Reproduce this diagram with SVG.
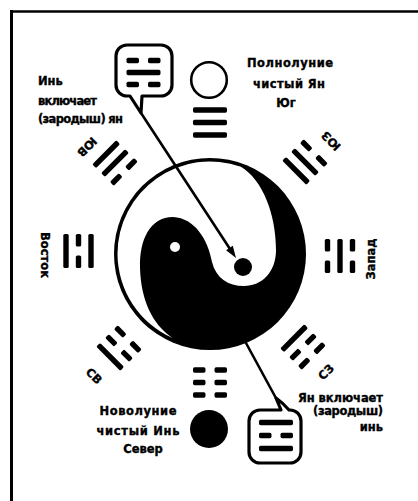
<svg xmlns="http://www.w3.org/2000/svg" width="418" height="501" viewBox="0 0 418 501">
<style>
.t{font-family:"DejaVu Sans","Liberation Sans",sans-serif;font-weight:bold;font-size:11.5px;fill:#000;stroke:#000;stroke-width:0.35}
.m{text-anchor:middle}
.e{text-anchor:end}
.r{text-anchor:middle;dominant-baseline:central}
.ln{stroke:#000;stroke-width:2.6;fill:none;stroke-linecap:round}
.bub{fill:#fff;stroke:#000;stroke-width:3.2;stroke-linejoin:round}
</style>
<defs>
<rect id="s" x="-17" y="-2.7" width="34" height="5.4" rx="1.6"/>
<g id="b"><rect x="-17" y="-2.7" width="12.5" height="5.4" rx="1.6"/><rect x="4.5" y="-2.7" width="12.5" height="5.4" rx="1.6"/></g>
</defs>
<rect width="418" height="501" fill="#fff"/>
<g id="frame">
<line x1="10" y1="11.5" x2="418" y2="11.5" stroke="#000" stroke-width="2.5"/>
<line x1="11.5" y1="10" x2="11.5" y2="501" stroke="#000" stroke-width="3"/>
</g>
<g id="yinyang">
<circle cx="210" cy="254" r="96" fill="#000"/>
<path fill="#fff" d="M172.6,338 A92.5,92.5 0 0 1 117.5,254 A92.5,92.5 0 0 1 240.9,166.8 C263,180 276,215 276,250 C276,272 262,286 244,286 C228,286 216,278 212,262 C208,240 195,218 173,217 C150,217 139,240 140,268 C141,300 152,324 172.6,338 Z"/>
<circle cx="175" cy="247" r="5" fill="#fff"/>
<circle cx="243" cy="267" r="9" fill="#000"/>
</g>
<g id="trigrams" fill="#000">
<g id="qian" transform="translate(210,122.5)"><use href="#s" y="-12.5"/><use href="#s"/><use href="#s" y="12.5"/></g>
<g id="kun" transform="translate(210,382.5) rotate(180)"><use href="#b" y="-12.5"/><use href="#b"/><use href="#b" y="12.5"/></g>
<g id="li" transform="translate(78.5,251) rotate(-90)"><use href="#s" y="-12.5"/><use href="#b"/><use href="#s" y="12.5"/></g>
<g id="kan" transform="translate(340,256) rotate(90)"><use href="#b" y="-12.5"/><use href="#s"/><use href="#b" y="12.5"/></g>
<g id="dui" transform="translate(115,163) rotate(-45)"><use href="#s" y="-12.5"/><use href="#s"/><use href="#b" y="12.5"/></g>
<g id="xun" transform="translate(305,162) rotate(45)"><use href="#b" y="-12.5"/><use href="#s"/><use href="#s" y="12.5"/></g>
<g id="zhen" transform="translate(119,348) rotate(-135)"><use href="#s" y="-12.5"/><use href="#b"/><use href="#b" y="12.5"/></g>
<g id="gen" transform="translate(303,347) rotate(135)"><use href="#b" y="-12.5"/><use href="#b"/><use href="#s" y="12.5"/></g>
</g>
<g id="moons">
<circle id="fullmoon" cx="209" cy="80" r="17.8" fill="#fff" stroke="#000" stroke-width="2.6"/>
<circle id="newmoon" cx="209" cy="429" r="19" fill="#000"/>
</g>
<g id="connectors">
<line class="ln" x1="141" y1="113" x2="230" y2="249"/>
<polygon points="236,258 226.1,250.2 232.8,245.8" fill="#000"/>
<line class="ln" x1="240" y1="332" x2="277" y2="400"/>
</g>
<g id="bubble-top">
<path class="bub" d="M127,45 H161 A11,11 0 0 1 172,56 V85 A11,11 0 0 1 161,96 H142 L141,113 L130,96 H127 A11,11 0 0 1 116,85 V56 A11,11 0 0 1 127,45 Z"/>
<g transform="translate(143.5,72.5)"><use href="#b" y="-12"/><use href="#s"/><use href="#b" y="12"/></g>
</g>
<g id="bubble-bottom">
<path class="bub" d="M260,410 H281 L276,398 Q283,403 289,410 H290 A11,11 0 0 1 301,421 V452 A11,11 0 0 1 290,463 H260 A11,11 0 0 1 249,452 V421 A11,11 0 0 1 260,410 Z"/>
<g transform="translate(276,435.5)"><use href="#s" y="-13"/><use href="#b"/><use href="#s" y="13"/></g>
</g>
<g id="labels" class="t">
<text class="m" x="290" y="67" textLength="86" lengthAdjust="spacing">Полнолуние</text>
<text class="m" x="289" y="88" textLength="72" lengthAdjust="spacing">чистый Ян</text>
<text class="m" x="286" y="107">Юг</text>
<text x="38" y="85">Инь</text>
<text x="38" y="105" textLength="59" lengthAdjust="spacing">включает</text>
<text x="38" y="123" textLength="85" lengthAdjust="spacing">(зародыш) ян</text>
<text class="m" x="138" y="415" textLength="77" lengthAdjust="spacing">Новолуние</text>
<text class="m" x="138" y="435" textLength="83" lengthAdjust="spacing">чистый Инь</text>
<text class="m" x="143" y="453">Север</text>
<text class="e" x="383" y="402" textLength="85" lengthAdjust="spacing">Ян включает</text>
<text class="e" x="383" y="415" textLength="70" lengthAdjust="spacing">(зародыш)</text>
<text class="e" x="383" y="431">инь</text>
<text class="r" transform="translate(45,255) rotate(90)">Восток</text>
<text class="r" transform="translate(371,259) rotate(-90)">Запад</text>
<text class="r" transform="translate(87,147) rotate(135)">ЮВ</text>
<text class="r" transform="translate(331,141) rotate(-135)">ЮЗ</text>
<text class="r" transform="translate(94,376) rotate(45)">СВ</text>
<text class="r" transform="translate(326,372) rotate(-45)">СЗ</text>
</g>
</svg>
